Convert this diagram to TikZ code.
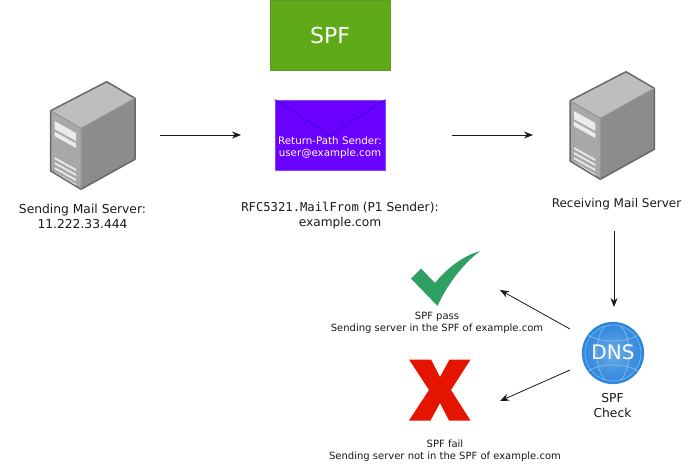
\documentclass[tikz,border=0pt]{standalone}
\usepackage{fontspec}
\setmainfont{DejaVu Sans}
\setmonofont{DejaVu Sans Mono}
\usetikzlibrary{arrows.meta,calc}
\definecolor{srvedge}{HTML}{686868}
\definecolor{srvtop}{HTML}{BEBEBE}
\definecolor{srvfront}{HTML}{A8A8A8}
\definecolor{srvside}{HTML}{8C8C8C}
\definecolor{spfgreen}{HTML}{60A917}
\definecolor{spfedge}{HTML}{5C9A2A}
\definecolor{envfill}{HTML}{6A00FF}
\definecolor{envedge}{HTML}{3700CC}
\definecolor{envline}{HTML}{8A45F5}
\definecolor{okgreen}{HTML}{2F9F62}
\definecolor{failred}{HTML}{E51400}
\definecolor{dnsblue}{HTML}{2C86DC}
\tikzset{
  x=1pt,y=-1pt,
  flow/.style={-{Stealth[length=9pt,width=7pt]},line width=0.8pt,black!90},
  lbl/.style={font=\fontsize{12.3}{15}\selectfont,align=center,text=black!90,inner sep=0pt},
  small/.style={font=\fontsize{10}{12.2}\selectfont,align=center,text=black!90,inner sep=0pt},
  pics/server/.style={code={
    \fill[srvside] (81,128.3)--(135,98.3)--(135,159.3)--(81,189.3)--cycle;
    \fill[srvtop] (50.7,110.7)--(106.7,81.7)--(135,98.3)--(81,128.3)--cycle;
    \fill[srvfront] (50.7,110.7)--(81,128.3)--(81,189.3)--(50.7,171)--cycle;
    \fill[white!92!black] (54.5,121)--(76,133)--(76,141)--(54.5,129)--cycle;
    \fill[white!92!black] (54.5,131.5)--(76,143.5)--(76,148)--(54.5,136)--cycle;
    \foreach \d in {0,5,10,15}{
      \fill[white!92!black] (54.5,157+\d)--(76,169+\d)--(76,171+\d)--(54.5,159+\d)--cycle;
    }
    \draw[srvedge,line width=1.5pt,line join=round] (50.7,110.7)--(106.7,81.7)--(135,98.3)--(135,159.3)--(81,189.3)--(50.7,171)--cycle;
    \draw[srvedge!70!white,line width=1pt,line join=round] (50.7,110.7)--(81,128.3)--(135,98.3) (81,128.3)--(81,189.3);
  }}
}
\begin{document}
\begin{tikzpicture}
\useasboundingbox (0,0) rectangle (690,471);
\pic at (0,0) {server};
\pic at (519.3,-10) {server};
\node[lbl] (sendlbl) at (82.5,216) {Sending Mail Server:\\11.222.33.444};
\node[lbl,font=\fontsize{12}{15}\selectfont] (recvlbl) at (616.5,204.5) {Receiving Mail Server};
\node[draw=spfedge,fill=spfgreen,line width=1pt,text=white,minimum width=120pt,minimum height=70pt,inner sep=0pt,font=\fontsize{22}{24}\selectfont] (spf) at (330,35) {SPF};
\node[draw=envline,fill=envfill,line width=0.8pt,minimum width=110pt,minimum height=70pt,inner sep=0pt] (env) at (330,135) {};
\draw[envedge,line width=0.6pt] (env.north west)--(330,135)--(env.north east);
\node[font=\fontsize{10.3}{12.2}\selectfont,align=center,text=white,inner sep=0pt] (envtxt) at (330,148) {Return-Path Sender:\\user@example.com};
\node[font=\fontsize{12.2}{15}\selectfont,align=center,text=black!90,inner sep=0pt] (fromlbl) at (340,215.5) {{\ttfamily RFC5321.MailFrom} (P1 Sender):\\example.com};
\fill[okgreen] (411,278.5)--(421,268.5)--(435,283)
  .. controls (447,268) and (463,256) .. (480,251)
  .. controls (462,265) and (447,285) .. (437.5,306)--cycle;
\node[small] (passlbl) at (437,322.5) {SPF pass\\Sending server in the SPF of example.com};
\fill[failred] (409,359.5)--(431,359.5)--(440,377)--(449.5,359.5)--(470.5,359.5)--(451,390)--(470.5,420.5)--(449,420.5)--(440,403)--(430.5,420.5)--(409,420.5)--(429,390)--cycle;
\node[small] (faillbl) at (445,451) {SPF fail\\Sending server not in the SPF of example.com};
\node[circle,draw=dnsblue,line width=1.2pt,inner color=dnsblue!70!white,outer color=dnsblue,minimum size=61pt,inner sep=0pt] (dns) at (613,353) {};
\begin{scope}[draw=white,draw opacity=.3,line width=0.9pt]
\draw (dns.center) ellipse (28pt and 28pt);
\draw (588,335) .. controls (600,343) and (626,343) .. (638,335);
\draw (588,371) .. controls (600,363) and (626,363) .. (638,371);
\draw (605,326) .. controls (594,339) and (594,367) .. (605,380);
\draw (621,326) .. controls (632,339) and (632,367) .. (621,380);
\end{scope}
\node[text=white,font=\fontsize{20}{22}\selectfont,inner sep=0pt] (dnstxt) at (613,352) {DNS};
\node[lbl] (chk) at (612.5,406) {SPF\\Check};
\coordinate (a1) at (160,135); \coordinate (a2) at (241,135);
\coordinate (b1) at (452,135); \coordinate (b2) at (533,135);
\coordinate (c1) at (614,231); \coordinate (c2) at (614,307);
\coordinate (d1) at (570,329); \coordinate (d2) at (500,290);
\coordinate (e1) at (570,370); \coordinate (e2) at (500,401);
\draw[flow] (a1)--(a2);
\draw[flow] (b1)--(b2);
\draw[flow] (c1)--(c2);
\draw[flow] (d1)--(d2);
\draw[flow] (e1)--(e2);
\end{tikzpicture}
\end{document}
